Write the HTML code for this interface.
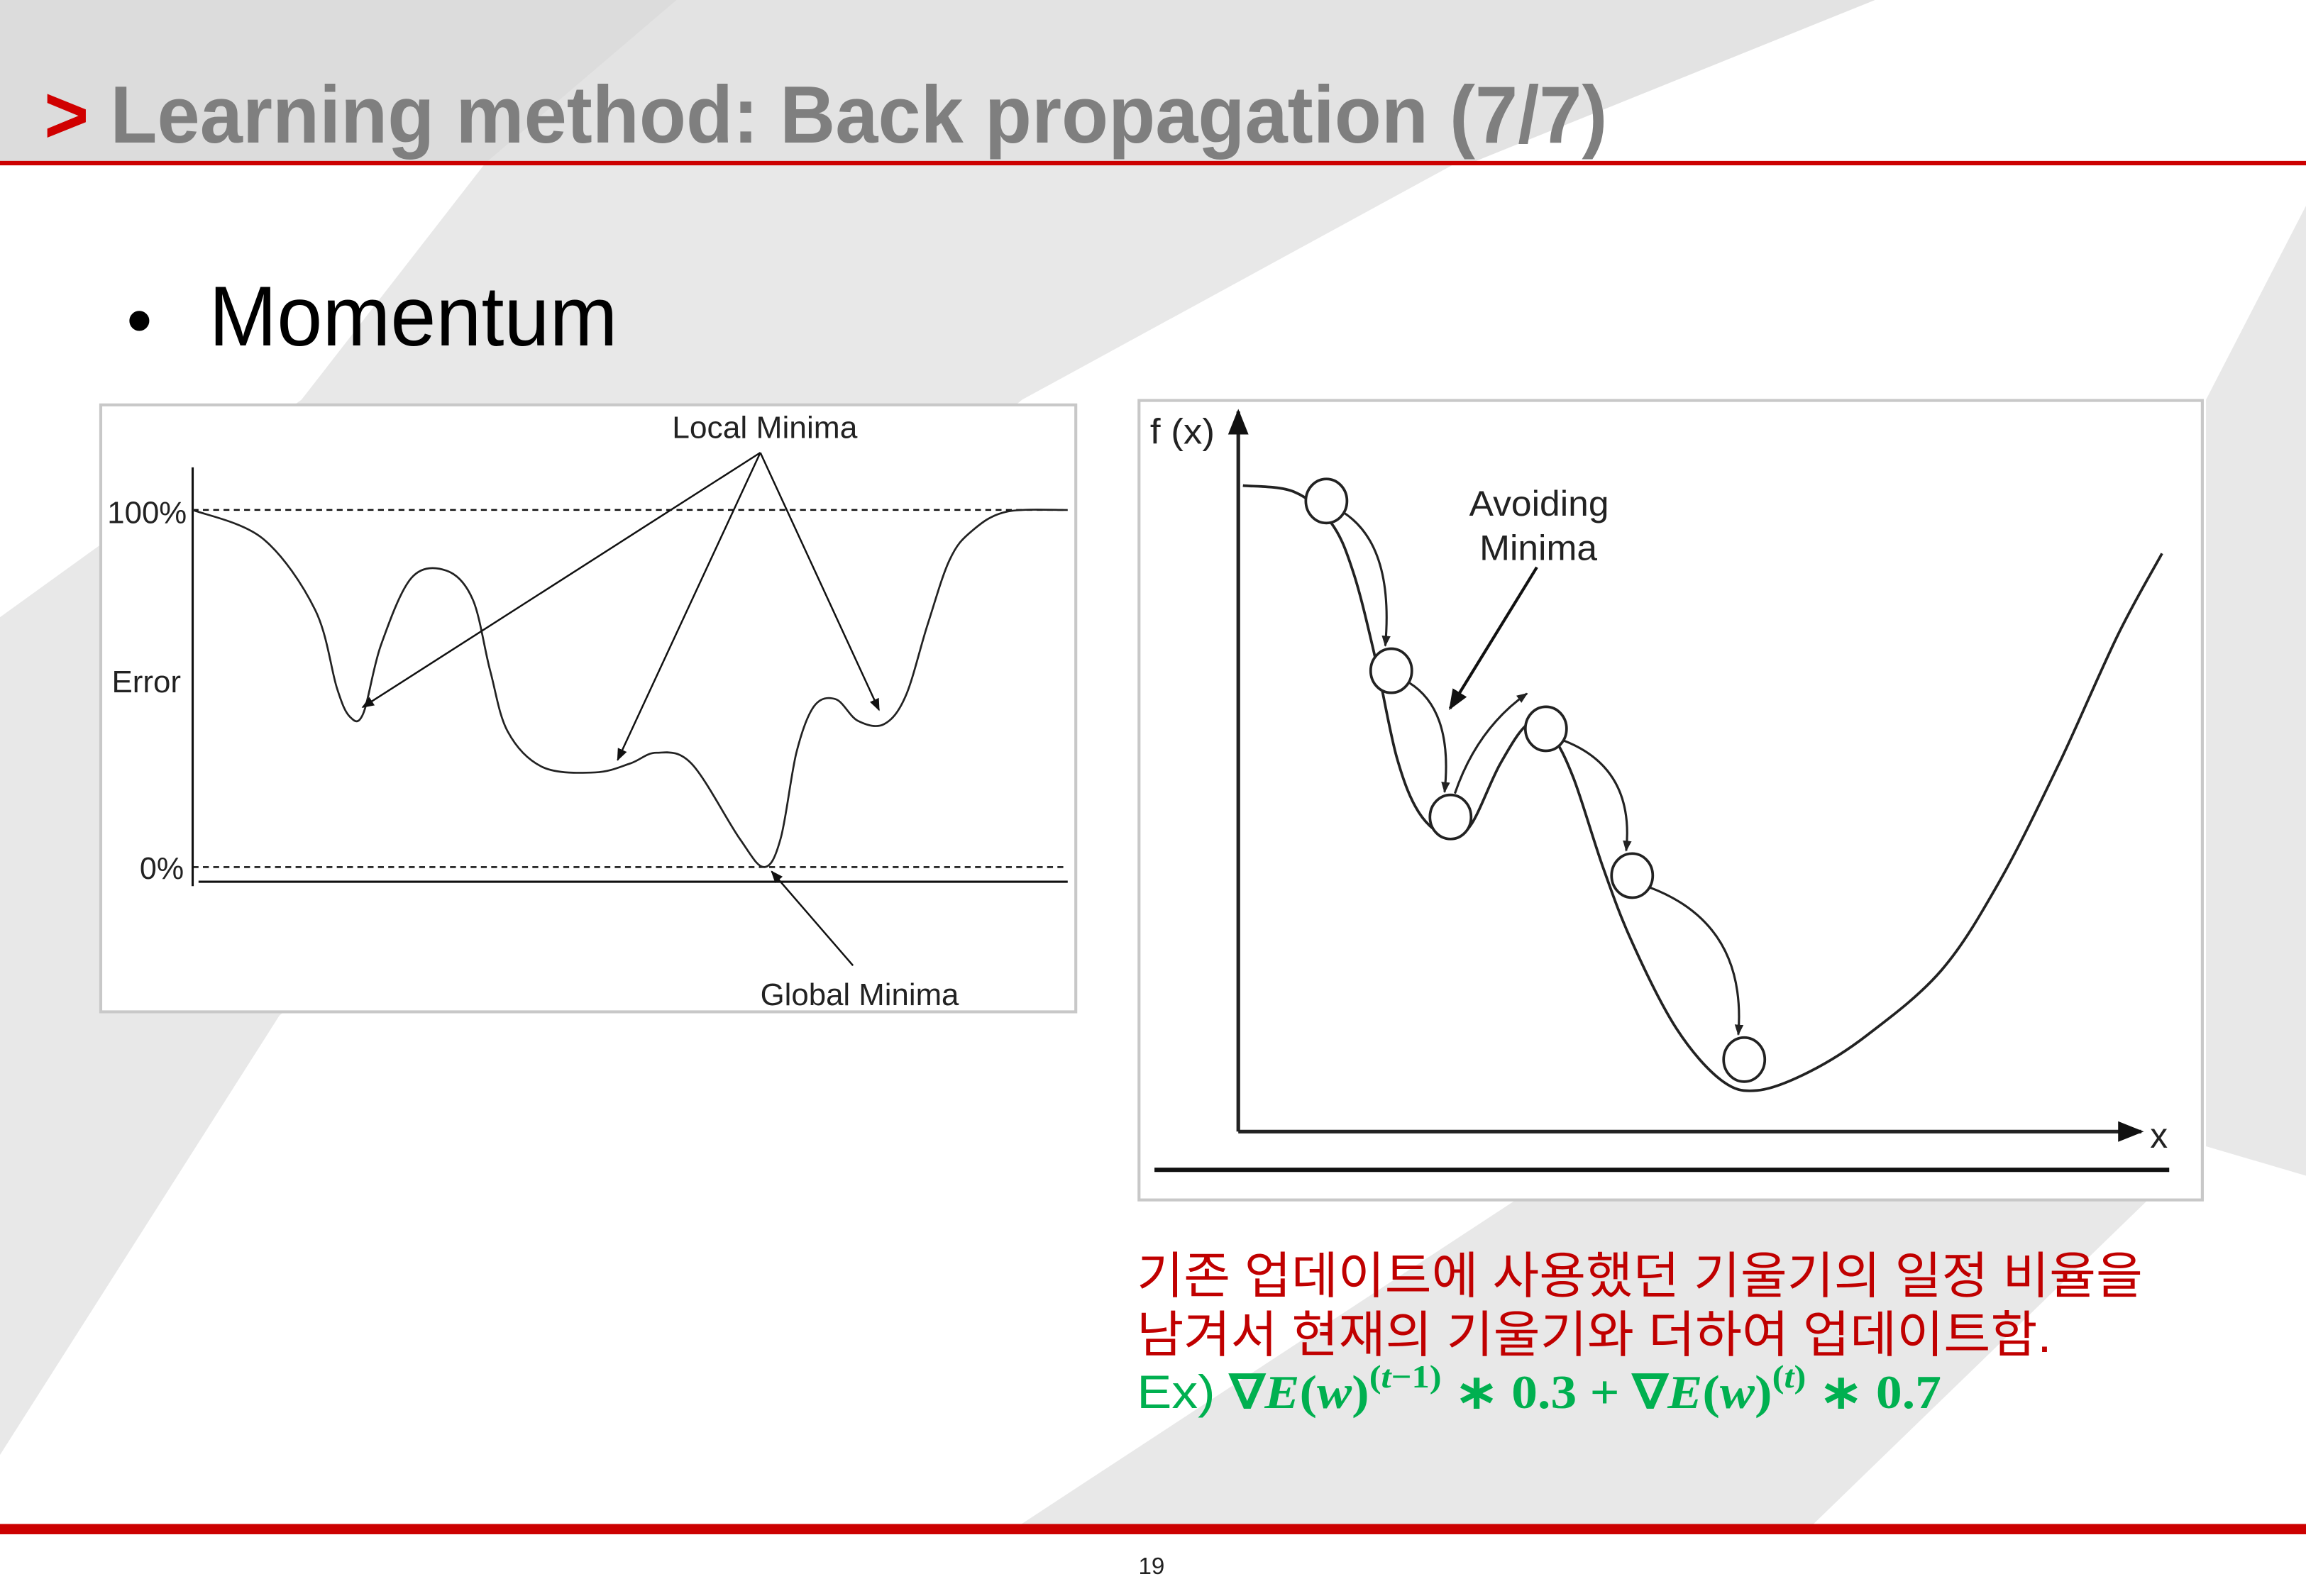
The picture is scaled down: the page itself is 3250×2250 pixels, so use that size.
<!DOCTYPE html>
<html><head><meta charset="utf-8"><style>
html,body{margin:0;padding:0;background:#fff;}
svg{display:block;}
</style></head><body>
<svg id="slide" width="3250" height="2250" viewBox="0 0 1568 1086" preserveAspectRatio="none" xmlns="http://www.w3.org/2000/svg">
<defs>
<marker id="ah" viewBox="0 0 10 10" refX="9" refY="5" markerWidth="7" markerHeight="7" orient="auto"><path d="M0,1 L10,5 L0,9 z" fill="#111"/></marker>
<marker id="ahs" viewBox="0 0 10 10" refX="9" refY="5" markerWidth="5" markerHeight="5" orient="auto"><path d="M0,1 L10,5 L0,9 z" fill="#222"/></marker>
</defs>
<g>
<rect x="0" y="0" width="1568" height="1086" fill="#fff"/>
<path d="M0,0 L1275,0 L1000,111 L0,111 z" fill="#e3e3e3"/>
<path d="M0,0 L460,0 L330,111 L0,111 z" fill="#dcdcdc"/>
<path d="M330,111 L990,111 L695,272 L190,691 L0,990 L0,420 L205,272 z" fill="#e8e8e8"/>
<path d="M1030,817 L1460,817 L1230,1040 L690,1040 z" fill="#e8e8e8"/>
<path d="M1568,140 L1500,272 L1500,780 L1568,800 z" fill="#e8e8e8"/>
</g>
<text x="30" y="97" font-family="Liberation Sans, sans-serif" font-weight="bold" font-size="55" fill="#7f7f7f" textLength="1063" lengthAdjust="spacingAndGlyphs"><tspan fill="#d00000">&gt;</tspan> Learning method: Back propagation (7/7)</text>
<rect x="0" y="109.5" width="1568" height="3" fill="#cc0000"/>
<text x="86" y="235" font-family="Liberation Sans, sans-serif" font-size="50" fill="#000">•</text>
<text x="142" y="235" font-family="Liberation Sans, sans-serif" font-size="58" fill="#000" textLength="278" lengthAdjust="spacingAndGlyphs">Momentum</text>

<g id="left-chart" font-family="Liberation Sans, sans-serif">
<rect x="68.5" y="275.5" width="663" height="413" fill="#fff" stroke="#c8c8c8" stroke-width="2"/>
<line x1="131" y1="318" x2="131" y2="603" stroke="#111" stroke-width="1.5"/>
<line x1="131" y1="347" x2="726" y2="347" stroke="#111" stroke-width="1.2" stroke-dasharray="4,3"/>
<line x1="131" y1="590" x2="726" y2="590" stroke="#111" stroke-width="1.2" stroke-dasharray="4,3"/>
<line x1="135" y1="600" x2="726" y2="600" stroke="#111" stroke-width="1.5"/>
<text x="73" y="356" font-size="21" fill="#222" textLength="54" lengthAdjust="spacingAndGlyphs">100%</text>
<text x="76" y="471" font-size="21" fill="#222" textLength="47" lengthAdjust="spacingAndGlyphs">Error</text>
<text x="95" y="598" font-size="21" fill="#222" textLength="30" lengthAdjust="spacingAndGlyphs">0%</text>
<text x="457" y="298" font-size="21" fill="#222" textLength="126" lengthAdjust="spacingAndGlyphs">Local Minima</text>
<text x="517" y="684" font-size="21" fill="#222" textLength="135" lengthAdjust="spacingAndGlyphs">Global Minima</text>
</g>

<g id="right-chart" font-family="Liberation Sans, sans-serif">
<rect x="774.5" y="272.5" width="723" height="544" fill="#fff" stroke="#c8c8c8" stroke-width="2"/>
<line x1="842" y1="770" x2="842" y2="280" stroke="#222" stroke-width="2.5" marker-end="url(#ah)"/>
<line x1="842" y1="770" x2="1456" y2="770" stroke="#222" stroke-width="2.5" marker-end="url(#ah)"/>
<line x1="785" y1="796" x2="1475" y2="796" stroke="#111" stroke-width="3"/>
<text x="782" y="302" font-size="24" fill="#222" textLength="44" lengthAdjust="spacingAndGlyphs">f (x)</text>
<text x="1462" y="781" font-size="24" fill="#222">x</text>
<text x="999" y="351" font-size="24" fill="#222" textLength="95" lengthAdjust="spacingAndGlyphs">Avoiding</text>
<text x="1006" y="381" font-size="24" fill="#222" textLength="80" lengthAdjust="spacingAndGlyphs">Minima</text>
<line x1="1045" y1="386" x2="986" y2="482" stroke="#111" stroke-width="2" marker-end="url(#ah)"/>
</g>

<g font-family="Liberation Sans, 'Noto Sans CJK KR', sans-serif">
<text x="773" y="880" font-size="34" fill="#c00000" textLength="684" lengthAdjust="spacingAndGlyphs">기존 업데이트에 사용했던 기울기의 일정 비율을</text>
<text x="773" y="920" font-size="34" fill="#c00000" textLength="622" lengthAdjust="spacingAndGlyphs">남겨서 현재의 기울기와 더하여 업데이트함.</text>
<text x="773" y="958" font-size="32" fill="#00b050" textLength="547" lengthAdjust="spacingAndGlyphs">Ex)  <tspan font-family="Liberation Serif, serif" font-weight="bold">∇<tspan font-style="italic">E</tspan>(<tspan font-style="italic">w</tspan>)<tspan dy="-14" font-size="22">(<tspan font-style="italic">t</tspan>−1)</tspan><tspan dy="14"> ∗ 0.3 + ∇</tspan><tspan font-style="italic">E</tspan>(<tspan font-style="italic">w</tspan>)<tspan dy="-14" font-size="22">(<tspan font-style="italic">t</tspan>)</tspan><tspan dy="14"> ∗ 0.7</tspan></tspan></text>
</g>
<rect x="0" y="1037" width="1568" height="7" fill="#cc0000"/>
<text x="783" y="1071" font-family="Liberation Sans, sans-serif" font-size="16" fill="#222" text-anchor="middle">19</text>
</svg>
<script>
// Left chart data: error curve points (x-position units 0..100, error percent)
const leftX = [0, 8, 14, 16.5, 18, 19.5, 21.5, 25, 29, 32, 34, 36, 40, 46, 50, 53, 57, 62.5, 65.3, 67.2, 69, 71, 73.5, 76, 79, 81.5, 84, 86.5, 89, 93, 100];
const leftErr = [100, 92, 72, 50, 42, 43, 62, 81, 83, 75, 55, 38, 28, 26.5, 29, 32, 29, 8, 0, 8, 32, 45, 47, 41, 40, 48, 68, 86, 94, 99.5, 100];
const localMinX = [18.3, 48, 79];
const localMinErr = [43, 27, 41];
const globalMinX = [66];
const globalMinErr = [0];
// Right chart data: f(x) curve (x units 0..100, f units 0..100)
const rightX = [0.5, 6, 10, 12.4, 14.8, 17.1, 19.5, 22.7, 25.1, 28.3, 31.4, 33.8, 36.2, 39.4, 42.5, 47.3, 52.1, 56, 61.6, 67.9, 75.9, 82.2, 88.6, 95, 99.7];
const rightF = [98, 97, 92, 84, 70, 54, 45, 41, 43, 53, 59.5, 57.6, 50.5, 36, 24, 10, 1.7, 0, 3, 9, 19.5, 34, 53, 74, 87];
const ballX = [9.5, 16.5, 22.9, 33.2, 42.5, 54.6];
const ballF = [95.5, 68, 44.3, 58.6, 34.8, 5];

const NS = 'http://www.w3.org/2000/svg';
function mk(tag, attrs, parent){const e=document.createElementNS(NS,tag);for(const k in attrs)e.setAttribute(k,attrs[k]);parent.appendChild(e);return e;}
function smooth(pts){let d='M'+pts[0][0]+','+pts[0][1];for(let i=0;i<pts.length-1;i++){const p0=pts[Math.max(0,i-1)],p1=pts[i],p2=pts[i+1],p3=pts[Math.min(pts.length-1,i+2)];const c1x=p1[0]+(p2[0]-p0[0])/6,c1y=p1[1]+(p2[1]-p0[1])/6,c2x=p2[0]-(p3[0]-p1[0])/6,c2y=p2[1]-(p3[1]-p1[1])/6;d+=' C'+c1x.toFixed(1)+','+c1y.toFixed(1)+' '+c2x.toFixed(1)+','+c2y.toFixed(1)+' '+p2[0].toFixed(1)+','+p2[1].toFixed(1);}return d;}

// Left axes
const lx = v => 131 + v*(726-131)/100;
const ly = v => 590 - v*(590-347)/100;
const L = document.getElementById('left-chart');
const lc = mk('path', {d: smooth(leftX.map((x,i)=>[lx(x),ly(leftErr[i])])), fill:'none', stroke:'#222', 'stroke-width':'1.3'}, L);


localMinX.forEach((x,i)=>{
  const tx=lx(x), ty=ly(localMinErr[i]);
  const dx=tx-517, dy=ty-308, len=Math.hypot(dx,dy);
  const a = mk('line', {x1:517, y1:308, x2:(tx-dx/len*8).toFixed(1), y2:(ty-dy/len*8).toFixed(1), stroke:'#111','stroke-width':'1.2','marker-end':'url(#ah)'}, L);
  
  
});
globalMinX.forEach((x,i)=>{
  const a = mk('line', {x1:580, y1:657, x2:lx(x)+1, y2:ly(globalMinErr[i])+3, stroke:'#111','stroke-width':'1.2','marker-end':'url(#ah)'}, L);
  
  
});

// Right axes
const rx = v => 842 + v*(1472-842)/100;
const ry = v => 742 - v*(742-322)/100;
const R = document.getElementById('right-chart');
const rc = mk('path', {d: smooth(rightX.map((x,i)=>[rx(x),ry(rightF[i])])), fill:'none', stroke:'#222', 'stroke-width':'1.8'}, R);


const balls = ballX.map((x,i)=>[rx(x), ry(ballF[i])]);
[[0,1],[1,2],[3,4],[4,5]].forEach(p=>{
  const a=balls[p[0]], b=balls[p[1]];
  const sx=a[0]+12, sy=a[1]+8, ex=b[0]-4, ey=b[1]-17;
  const cx=ex+6, cy=sy+(ey-sy)*0.25;
  const ar = mk('path', {d:`M${sx},${sy} Q${cx},${cy} ${ex},${ey}`, fill:'none', stroke:'#222','stroke-width':'1.5','marker-end':'url(#ahs)'}, R);
  
  
});
{
  const b=balls[2];
  const ar = mk('path', {d:`M${b[0]+3},${b[1]-16} Q${b[0]+18},${b[1]-60} ${b[0]+52},${b[1]-84}`, fill:'none', stroke:'#222','stroke-width':'1.5','marker-end':'url(#ahs)'}, R);
  
  
}
balls.forEach((b,i)=>{
  const c = mk('ellipse', {cx:b[0].toFixed(1), cy:b[1].toFixed(1), rx:14, ry:15, fill:'#fff', stroke:'#222','stroke-width':'1.8'}, R);
  
  
});
</script>
</body></html>
